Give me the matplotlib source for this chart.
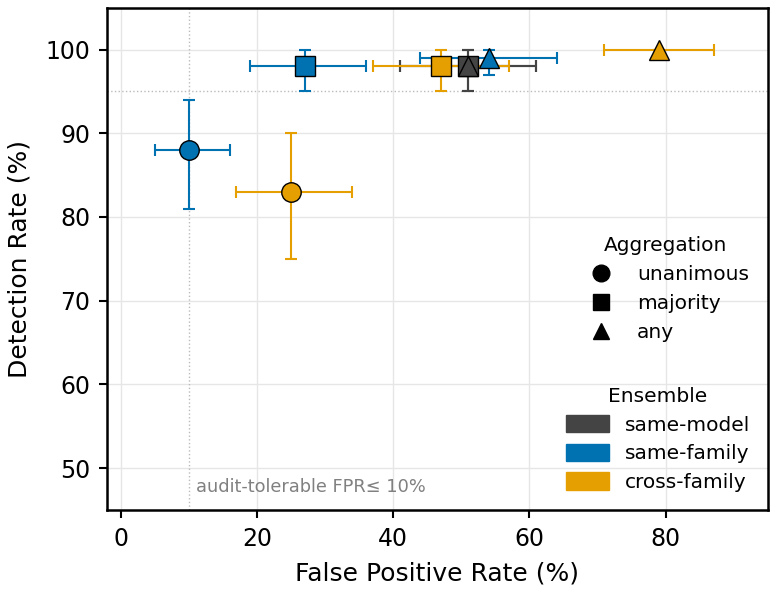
import matplotlib.pyplot as plt
from matplotlib.lines import Line2D
from matplotlib.patches import Patch

# ensemble -> aggregation -> (fpr, fpr_lo, fpr_hi, det, det_lo, det_hi)
ensembles = ["same-model", "same-family", "cross-family"]
colors = {"same-model": "#444444", "same-family": "#0072B2", "cross-family": "#E69F00"}
aggregations = ["unanimous", "majority", "any"]
markers = {"unanimous": "o", "majority": "s", "any": "^"}

points = {
    "same-model": {
        "majority": (51, 41, 61, 98, 95, 100),
        "any": (51, 41, 61, 98, 95, 100),
    },
    "same-family": {
        "unanimous": (10, 5, 16, 88, 81, 94),
        "majority": (27, 19, 36, 98, 95, 100),
        "any": (54, 44, 64, 99, 97, 100),
    },
    "cross-family": {
        "unanimous": (25, 17, 34, 83, 75, 90),
        "majority": (47, 37, 57, 98, 95, 100),
        "any": (79, 71, 87, 100, 100, 100),
    },
}

fpr_limit = 10
det_target = 95

fig, ax = plt.subplots(figsize=(7.75, 5.93), dpi=100)

for ens in ensembles:
    for agg in aggregations:
        if agg not in points[ens]:
            continue
        x, xlo, xhi, y, ylo, yhi = points[ens][agg]
        ax.errorbar(x, y, xerr=[[x - xlo], [xhi - x]], yerr=[[y - ylo], [yhi - y]],
                    fmt="none", ecolor=colors[ens], elinewidth=1.5, capsize=4, capthick=1.5, zorder=2)
        ax.plot(x, y, marker=markers[agg], color=colors[ens], markersize=14,
                markeredgecolor="black", markeredgewidth=1, linestyle="none", zorder=3)

ax.axvline(fpr_limit, color="#bbbbbb", linestyle=":", linewidth=1, zorder=1)
ax.axhline(det_target, color="#bbbbbb", linestyle=":", linewidth=1, zorder=1)
ax.text(fpr_limit + 1, 47.7, "audit-tolerable FPR≤ 10%", color="gray", fontsize=12.8, va="center")

ax.set_xlim(-2, 95)
ax.set_ylim(45, 105)
ax.set_xticks([0, 20, 40, 60, 80])
ax.set_yticks([50, 60, 70, 80, 90, 100])
ax.set_xlabel("False Positive Rate (%)", fontsize=18, labelpad=8)
ax.set_ylabel("Detection Rate (%)", fontsize=18, labelpad=10)
ax.tick_params(labelsize=17, width=1.5, length=6, pad=6)
for s in ax.spines.values():
    s.set_linewidth(1.8)
ax.grid(True, color="#e6e6e6", linewidth=1)
ax.set_axisbelow(True)

agg_handles = [Line2D([], [], marker=markers[a], color="black", linestyle="none", markersize=12) for a in aggregations]
leg1 = ax.legend(agg_handles, aggregations, title="Aggregation", loc="upper right",
                 bbox_to_anchor=(0.999, 0.582), frameon=False, fontsize=14.5, title_fontsize=14.5,
                 labelspacing=0.5)
ax.add_artist(leg1)

ens_handles = [Patch(color=colors[e]) for e in ensembles]
ax.legend(ens_handles, ensembles, title="Ensemble", loc="lower right", frameon=False,
          fontsize=14.5, title_fontsize=14.5, handlelength=2.1, handleheight=0.95,
          labelspacing=0.45, handletextpad=0.8)

fig.subplots_adjust(left=0.138, right=0.991, top=0.987, bottom=0.14)
fig.savefig("out.png", dpi=100)
